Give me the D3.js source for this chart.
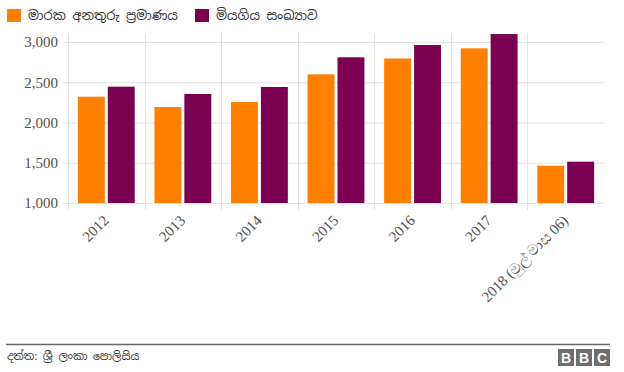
<!DOCTYPE html>
<html>
<head>
  <meta charset="utf-8">
  <title>Road accidents</title>
  <script src="https://d3js.org/d3.v7.min.js"></script>
  <style>
    body { margin: 0; background: #fff; }
    .tick text { font-family: "Liberation Serif", "Times New Roman", serif; font-size: 15px; fill: #505050; }
    .grid line { stroke: #e2e2e2; stroke-width: 1px; }
    .legend text, .source { font-family: "Noto Sans Sinhala", "Noto Sans", sans-serif; fill: #333; }
  </style>
</head>
<body>
<div id="chart"></div>
<script>
  var years = ["2012", "2013", "2014", "2015", "2016", "2017", "2018 (මුල් මාස 06)"];
  var seriesNames = ["මාරක අනතුරු ප්‍රමාණය", "මියගිය සංඛ්‍යාව"];
  var fatalAccidents = [2320, 2192, 2255, 2598, 2795, 2921, 1463];
  var deaths = [2445, 2354, 2441, 2810, 2962, 3099, 1513];
  var yTicks = [1000, 1500, 2000, 2500, 3000];
  var colors = ["#ff7f00", "#7b0051"];

  var width = 624, height = 372;
  var plotLeft = 68, plotRight = 604, plotTop = 42, plotBottom = 203;

  var svg = d3.select("#chart").append("svg")
      .attr("width", width).attr("height", height);

  var x = d3.scaleBand().domain(years).range([plotLeft, plotRight]).padding(0);
  var xSub = d3.scaleBand().domain([0, 1]).range([0, x.bandwidth()])
      .paddingInner(0.1).paddingOuter(0.33);
  var y = d3.scaleLinear().domain([1000, 3000]).range([plotBottom, plotTop]);

  //horizontal grid
  svg.append("g").attr("class", "grid")
      .selectAll("line").data(yTicks).enter().append("line")
      .attr("x1", plotLeft - 5).attr("x2", plotRight)
      .attr("y1", function(d) { return y(d) + 0.5; })
      .attr("y2", function(d) { return y(d) + 0.5; });

  //vertical grid at category edges
  var edges = years.map(function(d) { return x(d); });
  svg.append("g").attr("class", "grid")
      .selectAll("line").data(edges).enter().append("line")
      .attr("x1", function(d) { return Math.round(d) + 0.5; })
      .attr("x2", function(d) { return Math.round(d) + 0.5; })
      .attr("y1", 33).attr("y2", plotBottom + 7);

  //y axis labels
  var yAxis = svg.append("g")
      .attr("transform", "translate(" + (plotLeft - 8) + ",0)")
      .call(d3.axisLeft(y).tickValues(yTicks).tickSize(0).tickPadding(2).tickFormat(d3.format(",")));
  yAxis.select(".domain").remove();

  //x axis labels
  var xAxis = svg.append("g")
      .attr("transform", "translate(0," + (plotBottom + 4) + ")")
      .call(d3.axisBottom(x).tickSize(0));
  xAxis.select(".domain").remove();
  xAxis.selectAll("text")
      .attr("text-anchor", "end")
      .attr("y", 0).attr("dy", "0.7em")
      .attr("transform", "translate(-4,7)rotate(-45)");

  //bars
  var series = [fatalAccidents, deaths];
  var groups = svg.append("g").selectAll("g")
      .data(years).enter().append("g")
      .attr("transform", function(d) { return "translate(" + x(d) + ",0)"; });
  groups.selectAll("rect")
      .data(function(d, i) { return series.map(function(s, k) { return {k: k, v: s[i]}; }); })
      .enter().append("rect")
      .attr("x", function(d) { return xSub(d.k); })
      .attr("width", xSub.bandwidth())
      .attr("y", function(d) { return y(d.v); })
      .attr("height", function(d) { return y(1000) - y(d.v); })
      .attr("fill", function(d) { return colors[d.k]; });

  //legend
  var legend = svg.append("g").attr("class", "legend");
  var legendX = [7, 195];
  seriesNames.forEach(function(name, i) {
    legend.append("rect").attr("x", legendX[i]).attr("y", 9)
        .attr("width", 14).attr("height", 13).attr("fill", colors[i]);
    legend.append("text").attr("x", legendX[i] + 21).attr("y", 20)
        .attr("font-size", 13).text(name);
  });

  //footer
  svg.append("line").attr("x1", 6).attr("x2", 610).attr("y1", 344.5).attr("y2", 344.5)
      .attr("stroke", "#666").attr("stroke-width", 1.5);
  svg.append("text").attr("class", "source").attr("x", 7).attr("y", 360)
      .attr("font-size", 11).text("දත්ත: ශ්‍රී ලංකා පොලිසිය");

  var logo = svg.append("g").attr("transform", "translate(558,349)");
  ["B", "B", "C"].forEach(function(ch, i) {
    logo.append("rect").attr("x", i * 18).attr("y", 0).attr("width", 16).attr("height", 17).attr("fill", "#6e6e6e");
    logo.append("text").attr("x", i * 18 + 8).attr("y", 14).attr("text-anchor", "middle")
        .attr("font-family", "Liberation Sans, Arial, sans-serif").attr("font-weight", "bold")
        .attr("font-size", 14).attr("fill", "#fff").text(ch);
  });
</script>
</body>
</html>
